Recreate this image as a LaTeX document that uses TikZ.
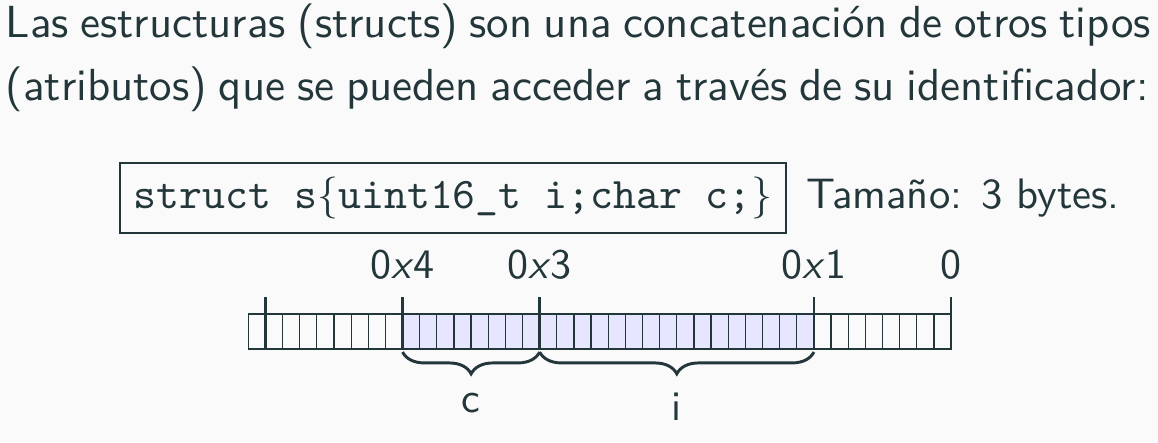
\documentclass[tikz,border=0pt]{standalone}
\usepackage{tikz}
\usetikzlibrary{positioning, decorations.pathreplacing}

\definecolor{ink}{HTML}{23373B}
\definecolor{paper}{HTML}{FAFAFA}
\definecolor{lav}{HTML}{E6E6FF}
\newlength\pxu
\setlength\pxu{0.2381pt}

\tikzset{
  para/.style={anchor=base west, inner sep=0, font=\sffamily\fontsize{10.7}{13.6}\selectfont},
  sizetext/.style={inner sep=0, font=\sffamily\fontsize{10.15}{12}\selectfont},
  addr/.style={inner sep=0, font=\sffamily\fontsize{10}{12}\selectfont},
  cell/.style={draw=ink, line width=0.3pt},
  tick/.style={draw=ink, line width=0.6pt},
  brace/.style={draw=ink, line width=0.7pt, decorate,
    decoration={brace, mirror, amplitude=5.2pt}},
}

\begin{document}
\begin{tikzpicture}[x=1\pxu, y=-1\pxu, text=ink]
\fill[paper] (0,0) rectangle (1158,442);
\useasboundingbox (0,0) rectangle (1158,442);

% text above
\node[para] (line1) at (5,37) {\makebox[1145\pxu][s]{Las estructuras (structs) son una concatenación de otros tipos}};
\node[para] (line2) at (5,100) {\makebox[1143\pxu][s]{(atributos) que se pueden acceder a través de su identificador:}};

% the struct
\node (code) [draw=ink, line width=0.35pt, minimum width=662\pxu, minimum height=70\pxu,
  font=\fontsize{10.4}{12}\selectfont] at (453,198)
  {\texttt{struct s}$\{$\texttt{uint16\_t i;char c;}$\}$};
\node (size) [sizetext, right=4.5pt of code.base east, anchor=base west] {Tamaño: 3 bytes.};

% memory cells
\fill[lav] (402.56,314) rectangle (813.92,349);
\foreach \k in {0,...,40}
  \draw[cell] ({248.3+\k*17.14},314) rectangle ++(17.14,35);

\foreach \b/\k in {40/1, 32/9, 24/17, 8/33, 0/41} {
  \coordinate (t\b) at ({248.3+\k*17.14},297);
  \coordinate (b\b) at ({248.3+\k*17.14},352);
  \draw[tick] (t\b) -- ++(0,52);
}

\node (a32) [addr, above=4pt of t32] {0\textsl{x}4};
\node (a24) [addr, above=4pt of t24] {0\textsl{x}3};
\node (a8) [addr, above=4pt of t8] {0\textsl{x}1};
\node (a0) [addr, above=4pt of t0] {0};

\draw[brace] (b32) -- (b24) node (lc) [addr, midway, below=9.5pt] {c};
\draw[brace] (b24) -- (b8) node (li) [addr, midway, below=9.5pt] {i};
\end{tikzpicture}
\end{document}
